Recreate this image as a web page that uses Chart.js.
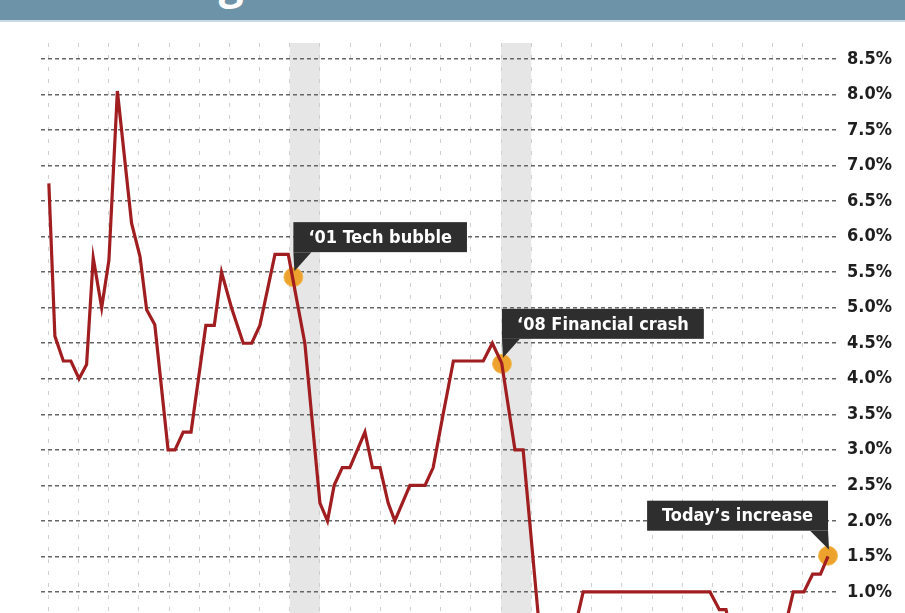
<!DOCTYPE html>
<html>
<head>
<meta charset="utf-8">
<script src="https://cdn.jsdelivr.net/npm/chart.js@4/dist/chart.umd.min.js"></script>
<style>
  html, body { margin: 0; padding: 0; background: #fff; overflow: hidden; }
  body { width: 905px; height: 613px; position: relative; }
  #header {
    position: absolute; left: 0; top: 0; width: 905px; height: 20px;
    background: #6d93a8; border-bottom: 2px solid #c9d9e5; overflow: hidden; z-index: 2;
  }
  #header span {
    position: absolute; left: 112px; top: -49px; line-height: 44px;
    font: bold 44px "Open Sans", sans-serif; color: #fff; white-space: nowrap;
  }
  #chart { position: absolute; left: 0; top: 0; }
</style>
</head>
<body>
<div id="header"><span>Rising interest rates</span></div>
<canvas id="chart" width="905" height="700"></canvas>
<script>
  // rate readings (decimal year, percent)
  const years = [1993.02, 1993.22, 1993.50, 1993.75, 1994.02, 1994.27, 1994.49, 1994.77, 1995.01, 1995.29,
    1995.76, 1996.04, 1996.26, 1996.53, 1996.97, 1997.20, 1997.47, 1997.73, 1998.22, 1998.50,
    1998.74, 1999.07, 1999.46, 1999.74, 2000.01, 2000.51, 2000.95, 2001.50, 2002.00, 2002.25,
    2002.47, 2002.74, 2002.99, 2003.49, 2003.74, 2003.99, 2004.26, 2004.48, 2004.98, 2005.48,
    2005.75, 2006.08, 2006.42, 2007.41, 2007.71, 2008.02, 2008.46, 2008.73, 2009.32, 2010.31,
    2010.72, 2014.92, 2015.23, 2015.45, 2015.58, 2017.40, 2017.68, 2018.03, 2018.32, 2018.58, 2018.83];
  const rates = [6.75, 4.6, 4.25, 4.25, 4.0, 4.2, 5.7, 5.0, 5.67, 8.05,
    6.19, 5.72, 4.97, 4.76, 3.0, 3.0, 3.25, 3.25, 4.75, 4.75,
    5.5, 5.0, 4.5, 4.5, 4.75, 5.75, 5.75, 4.5, 2.25, 2.0,
    2.5, 2.75, 2.75, 3.25, 2.75, 2.75, 2.25, 2.0, 2.5, 2.5,
    2.75, 3.5, 4.25, 4.25, 4.5, 4.22, 3.0, 3.0, 0.25, 0.25,
    1.0, 1.0, 0.75, 0.75, 0.5, 0.5, 1.0, 1.0, 1.25, 1.25, 1.5];

  const eventYears = [2001.12, 2008.03, 2018.83];
  const eventRates = [5.43, 4.21, 1.51];
  const eventLabels = ['\u201801 Tech bubble', '\u201808 Financial crash', 'Today\u2019s increase'];
  const eventAlign = ['left', 'left', 'right'];

  const bandStarts = [2001, 2008];
  const bandEnds = [2002, 2009];

  const yearTicks = [1993, 1994, 1995, 1996, 1997, 1998, 1999, 2000, 2001, 2002, 2003, 2004, 2005,
    2006, 2007, 2008, 2009, 2010, 2011, 2012, 2013, 2014, 2015, 2016, 2017, 2018];
  const rateTicks = [0, 0.5, 1.0, 1.5, 2.0, 2.5, 3.0, 3.5, 4.0, 4.5, 5.0, 5.5, 6.0, 6.5, 7.0, 7.5, 8.0, 8.5];

  const labelFont = 'bold 18px "DejaVu Sans Condensed", "DejaVu Sans", sans-serif';

  const bandsPlugin = {
    id: 'bands',
    beforeDraw(chart) {
      const { ctx, chartArea, scales } = chart;
      ctx.save();
      ctx.fillStyle = '#e6e6e6';
      for (let i = 0; i < bandStarts.length; i++) {
        const x0 = scales.x.getPixelForValue(bandStarts[i]);
        const x1 = scales.x.getPixelForValue(bandEnds[i]);
        ctx.fillRect(x0, chartArea.top, x1 - x0, chartArea.bottom - chartArea.top);
      }
      ctx.restore();
    }
  };

  const calloutPlugin = {
    id: 'callouts',
    afterDatasetsDraw(chart) {
      const { ctx, scales } = chart;
      ctx.save();
      ctx.font = labelFont;
      ctx.textBaseline = 'middle';
      for (let i = 0; i < eventLabels.length; i++) {
        const px = scales.x.getPixelForValue(eventYears[i]);
        const py = scales.y.getPixelForValue(eventRates[i]);
        const w = ctx.measureText(eventLabels[i]).width + 30;
        const h = 30;
        const bottom = py - 25;
        const left = eventAlign[i] === 'right' ? px - w : px;
        ctx.fillStyle = '#2e2e2e';
        ctx.fillRect(left, bottom - h, w, h);
        ctx.beginPath();
        if (eventAlign[i] === 'right') {
          ctx.moveTo(left + w - 18, bottom);
          ctx.lineTo(left + w, bottom);
          ctx.lineTo(px + 1, py - 6);
        } else {
          ctx.moveTo(left, bottom);
          ctx.lineTo(left + 18, bottom);
          ctx.lineTo(px + 1, py - 6);
        }
        ctx.closePath();
        ctx.fill();
        ctx.fillStyle = '#ffffff';
        ctx.fillText(eventLabels[i], left + 15, bottom - h / 2 + 1);
      }
      ctx.restore();
    }
  };

  new Chart(document.getElementById('chart'), {
    type: 'line',
    data: {
      datasets: [
        {
          data: years.map((yr, i) => ({ x: yr, y: rates[i] })),
          borderColor: '#a01d20',
          borderWidth: 3.2,
          pointRadius: 0,
          tension: 0,
          fill: false
        },
        {
          data: eventYears.map((yr, i) => ({ x: yr, y: eventRates[i] })),
          showLine: false,
          pointRadius: 9.5,
          pointBackgroundColor: '#eca22c',
          pointBorderColor: '#f3bd5c',
          pointBorderWidth: 1
        }
      ]
    },
    options: {
      responsive: false,
      devicePixelRatio: 1,
      animation: false,
      layout: { padding: { left: 41, top: 43, right: 0, bottom: 37 } },
      plugins: { legend: { display: false }, tooltip: { enabled: false } },
      scales: {
        x: {
          type: 'linear',
          min: 1992.76,
          max: 2019.16,
          afterBuildTicks: (scale) => { scale.ticks = yearTicks.map(v => ({ value: v })); },
          afterFit: (scale) => { scale.height = 0; },
          ticks: { display: false },
          border: { display: false, dash: [4, 8] },
          grid: { color: '#cfcfcf', lineWidth: 1, drawTicks: false }
        },
        y: {
          position: 'right',
          min: 0,
          max: 8.725,
          afterBuildTicks: (scale) => { scale.ticks = rateTicks.map(v => ({ value: v })); },
          afterFit: (scale) => { scale.width = 67; },
          ticks: {
            padding: 9,
            color: '#1e1e1e',
            font: { family: '"DejaVu Sans Condensed", "DejaVu Sans", sans-serif', size: 18, weight: 'bold' },
            callback: (v) => v.toFixed(1) + '%'
          },
          border: { display: false, dash: [4, 3] },
          grid: { color: '#666666', lineWidth: 1.5, drawTicks: false }
        }
      }
    },
    plugins: [bandsPlugin, calloutPlugin]
  });
</script>
</body>
</html>
